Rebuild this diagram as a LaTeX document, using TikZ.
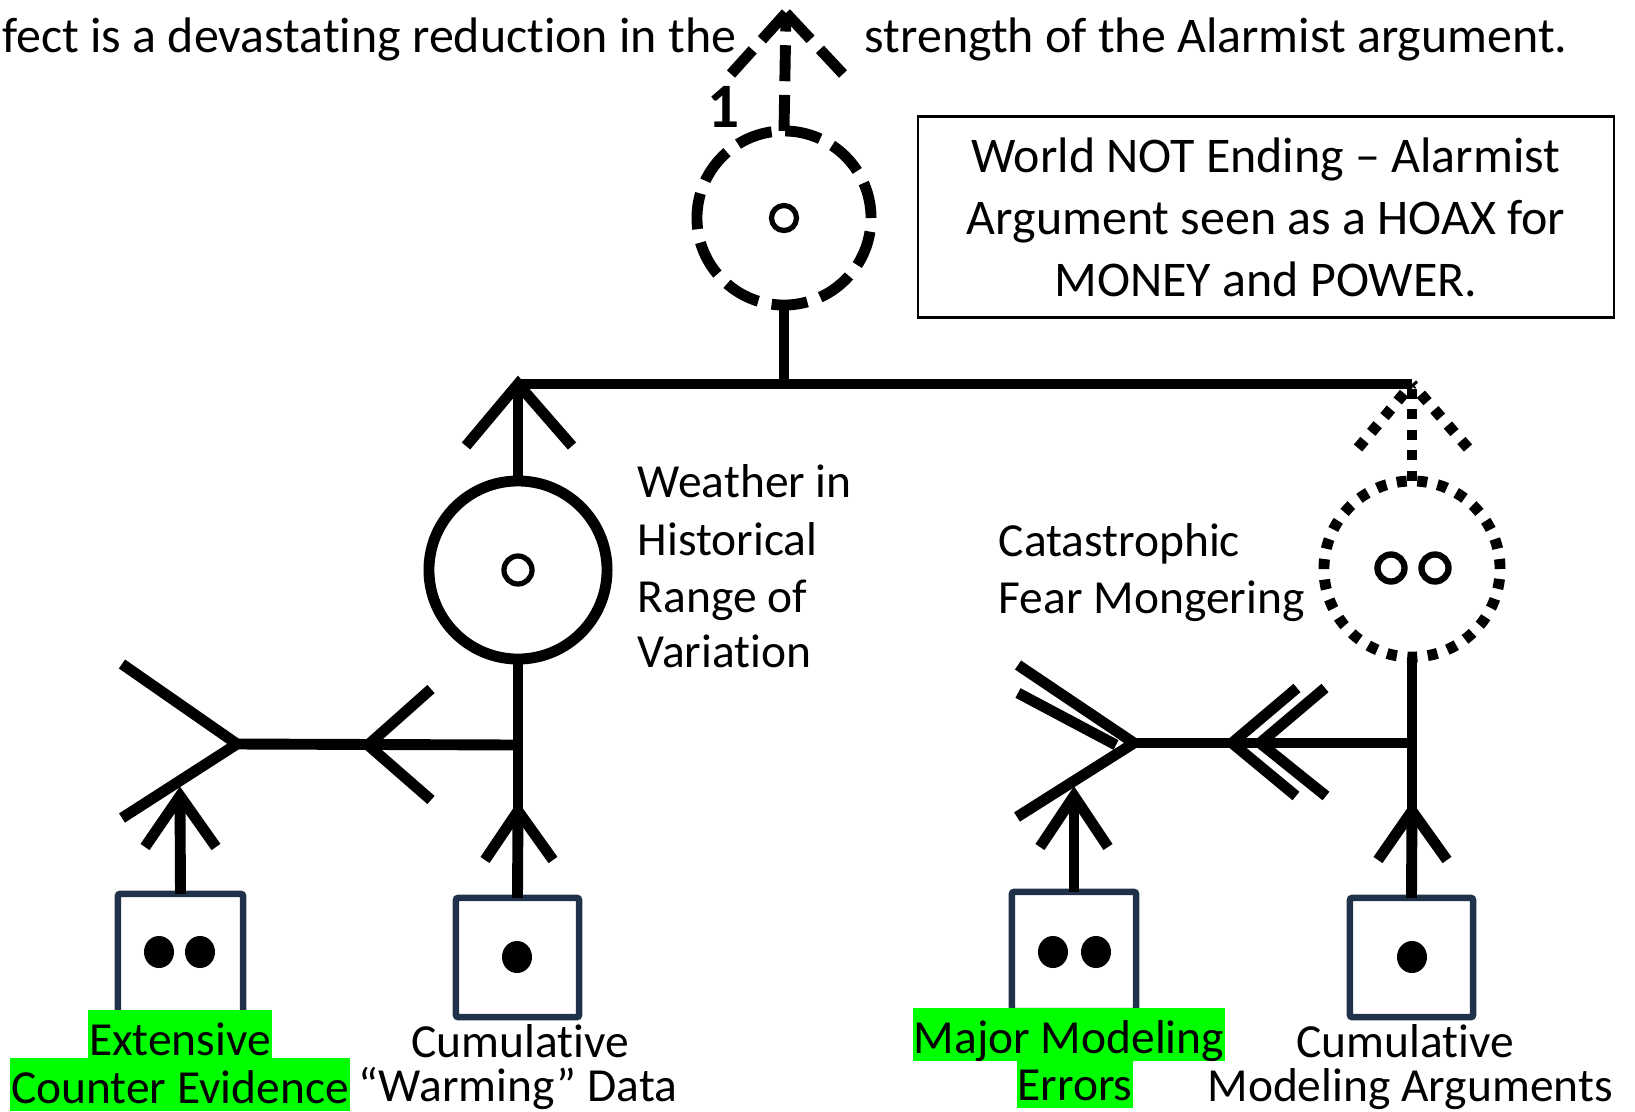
\documentclass[tikz,border=0pt]{standalone}
\usepackage{fontspec}
\setmainfont{Carlito}[Ligatures={NoCommon}]
\usetikzlibrary{shapes.geometric}
\definecolor{boxnavy}{RGB}{31,50,73}
\definecolor{hlgreen}{RGB}{0,255,0}
\begin{document}
\begin{tikzpicture}[x=0.01cm,y=-0.01cm,
  lw/.style={line width=3.1pt},
  dashline/.style={line width=3.1pt,dash pattern=on 0.36cm off 0.137cm},
  dotline/.style={line width=3.1pt,dash pattern=on 0.1cm off 0.105cm},
  ring/.style={circle,draw,line width=3.1pt,inner sep=0pt,outer sep=0pt},
  eye/.style={circle,draw,line width=1.5pt,minimum size=0.27cm,inner sep=0pt},
  pupil/.style={ellipse,fill=black,minimum width=0.30cm,minimum height=0.32cm,inner sep=0pt},
  evbox/.style={draw=boxnavy,line width=0.065cm,rounded corners=0.02cm,inner sep=0pt,outer sep=0pt},
  toptext/.style={font=\fontsize{14.2pt}{17pt}\selectfont,inner sep=0pt},
  lbl/.style={font=\fontsize{13.5pt}{16pt}\selectfont,inner sep=0pt},
  hl/.style={lbl,fill=hlgreen,inner xsep=0.01cm,inner ysep=0pt,text height=0.45cm,text depth=0.08cm}]
\clip (0,0) rectangle (1635,1111);

% running sentence across the top
\node[toptext,anchor=base east] (lead) at (737,52) {fect is a devastating reduction in the};
\node[toptext,anchor=base west] (tail) at (864,52) {strength of the Alarmist argument.};

% claim box
\node[draw,line width=0.7pt,minimum width=6.96cm,minimum height=2.01cm,align=center,
      font=\fontsize{14.2pt}{0.62cm}\selectfont] (claim) at (1266,217)
  {World NOT Ending -- Alarmist\\Argument seen as a HOAX for\\MONEY and POWER.};

% top conclusion (dashed)
\node[ring,dashline,minimum size=1.74cm] (topc) at (784,218) {};
\node[eye,minimum size=0.25cm] (topeye) at (784,218) {};
\coordinate (toptip) at (786,13);
\draw[dashline] (topc.north) -- (toptip);
\draw[dashline] (toptip) -- ++(-55,61);
\draw[dashline] (toptip) -- ++(57,61);
\node[font=\fontsize{18pt}{20pt}\selectfont\bfseries,inner sep=0pt,anchor=base] (one) at (724,127) {1};

% joining bar
\coordinate (tipL) at (518,384);
\coordinate (tipR) at (1412,384);
\coordinate (barM) at (784,384);
\draw[lw] (topc.south) -- (barM);
\draw[lw] (tipL) -- (tipR);

% left premise: weather in historical range
\node[ring,minimum size=1.78cm] (wc) at (518,570) {};
\node[eye,minimum size=0.28cm] (weye) at (518,570) {};
\draw[lw] (wc.north) -- (tipL);
\draw[lw,miter limit=10] (tipL) ++(-52,62) -- (tipL) -- ++(54,62);
\node[lbl,anchor=base west] (w1) at (637,497) {Weather in};
\node[lbl,anchor=base west] (w2) at (637,555) {Historical};
\node[lbl,anchor=base west] (w3) at (637,612) {Range of};
\node[lbl,anchor=base west] (w4) at (637,667) {Variation};

% right premise: catastrophic fear mongering (dotted)
\node[ring,dotline,minimum size=1.76cm] (cc) at (1412,569) {};
\node[eye,line width=1.8pt,minimum size=0.27cm] (ceye1) at (1391,568) {};
\node[eye,line width=1.8pt,minimum size=0.27cm] (ceye2) at (1435,568) {};
\coordinate (rarmL) at (1358,448);
\coordinate (rarmR) at (1468,448);
\draw[dotline] (cc.north) -- (tipR);
\draw[dotline] (rarmL) -- (tipR);
\draw[dotline] (rarmR) -- (tipR);
\node[lbl,anchor=base west] (c1) at (998,556) {Catastrophic};
\node[lbl,anchor=base west] (c2) at (998,613) {Fear Mongering};

% evidence boxes
\node[evbox,minimum width=1.25cm,minimum height=1.20cm] (b1) at (180.5,954) {};
\node[pupil] (b1p1) at (159,952) {};
\node[pupil] (b1p2) at (200,952) {};
\node[evbox,minimum width=1.23cm,minimum height=1.19cm] (b2) at (517.5,957.5) {};
\node[pupil] (b2p) at (517,957) {};
\node[evbox,minimum width=1.24cm,minimum height=1.19cm] (b3) at (1074,951.5) {};
\node[pupil] (b3p1) at (1053,952) {};
\node[pupil] (b3p2) at (1096,952) {};
\node[evbox,minimum width=1.23cm,minimum height=1.19cm] (b4) at (1411.5,957.5) {};
\node[pupil] (b4p) at (1412,957) {};

% left support column and rebuttal branch
\coordinate (wtip) at (518,811);
\draw[lw] (wc.south) -- (wtip);
\draw[lw] (b2.north) -- (wtip);
\draw[lw] (wtip) ++(-33,49) -- (wtip) -- ++(35,49);
\coordinate (wj) at (518,745);
\coordinate (lj) at (237,744);
\coordinate (wmid) at (368,745);
\coordinate (la1) at (122,664);
\coordinate (la2) at (122,818);
\draw[lw] (wj) -- (lj);
\draw[lw] (wmid) ++(63,-56) -- (wmid) -- ++(63,55);
\draw[lw] (la1) -- (lj) -- (la2);
\coordinate (b1tip) at (180,796);
\draw[lw] (b1.north) -- (b1tip);
\draw[lw] (b1tip) ++(-35,51) -- (b1tip) -- ++(36,51);

% right support column and double rebuttal branch
\coordinate (ctip) at (1412,811);
\draw[lw] (cc.south) -- (ctip);
\draw[lw] (b4.north) -- (ctip);
\draw[lw] (ctip) ++(-34,49) -- (ctip) -- ++(35,49);
\coordinate (cj) at (1412,743);
\coordinate (rj) at (1134,743);
\coordinate (rmid1) at (1232,743);
\coordinate (rmid2) at (1260,743);
\coordinate (ra1) at (1018,665);
\coordinate (ra2) at (1018,693);
\coordinate (ra3) at (1017,817);
\coordinate (rin) at (1116,745);
\draw[lw] (cj) -- (rj);
\draw[lw] (rmid1) ++(65,-55) -- (rmid1) -- ++(64,53);
\draw[lw] (rmid2) ++(65,-55) -- (rmid2) -- ++(66,53);
\draw[lw] (ra1) -- (rj) -- (ra3);
\draw[lw] (ra2) -- (rin);
\coordinate (b3tip) at (1074,796);
\draw[lw] (b3.north) -- (b3tip);
\draw[lw] (b3tip) ++(-34,51) -- (b3tip) -- ++(34,51);

% captions under the boxes
\node[hl,anchor=base] (ext) at (180,1055) {Extensive};
\node[hl,anchor=base] (cev) at (180,1103) {Counter Evidence};
\node[lbl,anchor=base] (cum1) at (520,1057) {Cumulative};
\node[lbl,anchor=base] (wdat) at (518,1101) {“Warming” Data};
\node[hl,anchor=base] (maj) at (1069,1053) {Major Modeling};
\node[hl,anchor=base] (err) at (1075,1100) {Errors};
\node[lbl,anchor=base] (cum2) at (1405,1057) {Cumulative};
\node[lbl,anchor=base] (marg) at (1410,1101) {Modeling Arguments};
\end{tikzpicture}
\end{document}
